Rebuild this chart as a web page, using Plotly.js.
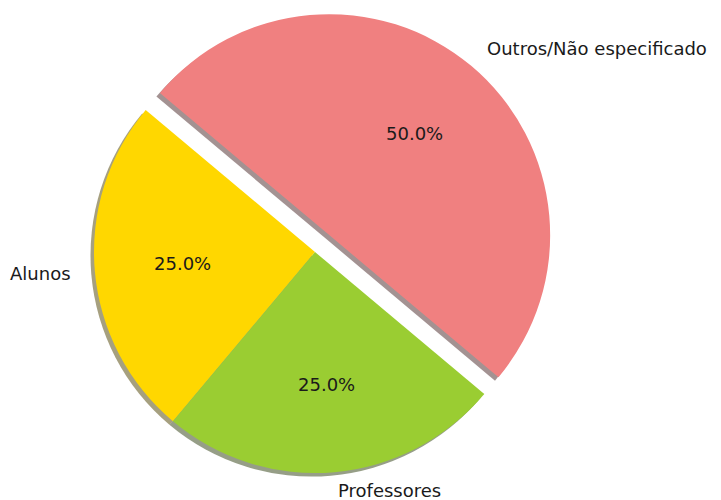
<!DOCTYPE html>
<html>
<head>
<meta charset="utf-8">
<script src="https://cdn.plot.ly/plotly-3.0.1.min.js"></script>
<style>html,body{margin:0;padding:0;background:#fff;}</style>
</head>
<body>
<div id="chart" style="width:721px;height:500px;"></div>
<script>
const categories = ["Alunos", "Professores", "Outros/Não especificado"];
const values = [25, 25, 50];
const sliceColors = ["#FFD700", "#9ACD32", "#F08080"];
const pulls = [0, 0, 0.1];
const startAngle = 140;      // degrees, counterclockwise from 3 o'clock
const labelDistance = 1.1;   // fraction of radius
const pctDistance = 0.6;     // fraction of radius

function shade(hex) {
  const r = parseInt(hex.slice(1,3),16), g = parseInt(hex.slice(3,5),16), b = parseInt(hex.slice(5,7),16);
  return `rgba(${Math.round(r*0.3)},${Math.round(g*0.3)},${Math.round(b*0.3)},0.5)`;
}

const W = 721, H = 500;
const cx = 315, cy = 252, radius = 221;
const maxPull = Math.max(...pulls);
const half = radius * (1 + maxPull);
const dom = (dx, dy) => ({
  x: [(cx + dx - half)/W, (cx + dx + half)/W],
  y: [(H - cy - dy - half)/H, (H - cy - dy + half)/H]
});

const common = {
  type: "pie",
  labels: categories,
  values: values,
  sort: false,
  direction: "counterclockwise",
  rotation: -startAngle,
  pull: pulls,
  hoverinfo: "skip",
  showlegend: false,
  textinfo: "none"
};

const shadow = Object.assign({}, common, {
  domain: dom(-3.5, 3.5),
  marker: {colors: sliceColors.map(shade), line: {width: 0}}
});

const main = Object.assign({}, common, {
  domain: dom(0, 0),
  marker: {colors: sliceColors, line: {width: 0}}
});

// texts placed like matplotlib: labels at 1.1 r, percentages at 0.6 r, both from each slice's mid angle
const total = values.reduce((a, b) => a + b, 0);
const font = {family: "DejaVu Sans", size: 18, color: "#1a1a1a"};
let cum = 0;
const annotations = [];
categories.forEach((name, i) => {
  const mid = (startAngle + (cum + values[i] / 2) / total * 360) * Math.PI / 180;
  cum += values[i];
  const c = Math.cos(mid), s = Math.sin(mid);
  const dl = (pulls[i] + labelDistance) * radius;
  const lx = cx + dl * c;
  const ly = Math.min(cy - dl * s, H - 10);
  annotations.push({
    text: name,
    x: lx / W, y: (H - ly) / H,
    xref: "paper", yref: "paper",
    xanchor: c < 0 ? "right" : "left",
    yanchor: "middle",
    showarrow: false,
    font: font
  });
  const dp = (pulls[i] + pctDistance) * radius;
  const px = cx + dp * c;
  const py = cy - dp * s;
  annotations.push({
    text: (values[i] / total * 100).toFixed(1) + "%",
    x: px / W, y: (H - py) / H,
    xref: "paper", yref: "paper",
    xanchor: "center",
    yanchor: "middle",
    showarrow: false,
    font: font
  });
});

Plotly.newPlot("chart", [shadow, main], {
  width: W, height: H,
  margin: {l: 0, r: 0, t: 0, b: 0},
  paper_bgcolor: "#fff",
  showlegend: false,
  annotations: annotations
}, {staticPlot: true});
</script>
</body>
</html>
